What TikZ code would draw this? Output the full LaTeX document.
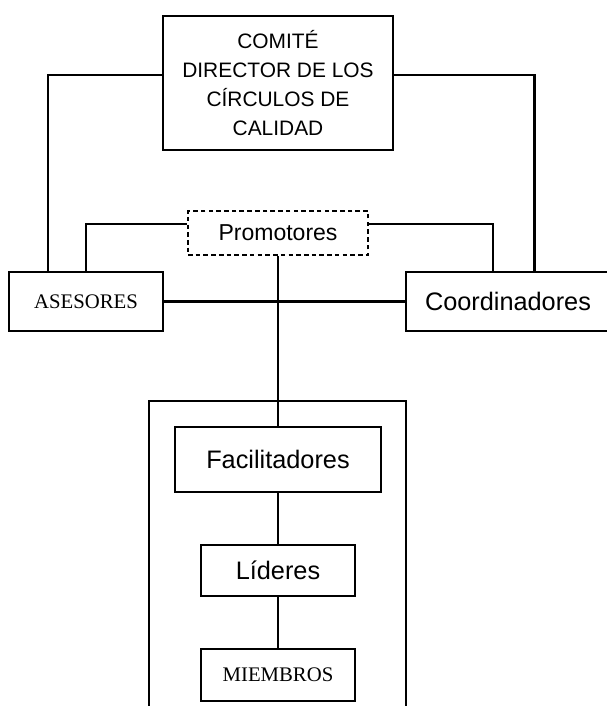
\documentclass[tikz,border=0pt]{standalone}
\usepackage{fontspec}
\setmainfont{Liberation Sans}
\newfontfamily\romana{Liberation Serif}
\usetikzlibrary{positioning}

\begin{document}
\begin{tikzpicture}[node distance=1.02cm, line width=1.2pt,
    caja/.style={draw, inner sep=0pt, align=center},
    grande/.style={font=\fontsize{14.4}{17}\selectfont},
    serif/.style={font=\romana\fontsize{11.8}{14}\selectfont}]
    \useasboundingbox (0,0) rectangle (12.12,14.12);
    \node[caja, minimum width=4.61cm, minimum height=2.69cm,
          font=\fontsize{11.9}{16.5}\selectfont] (comite) at (5.56,12.46)
          {COMITÉ\\DIRECTOR DE LOS\\CÍRCULOS DE\\CALIDAD};
    \node[caja, dash pattern=on 2.6pt off 1.8pt, minimum width=3.6cm,
          minimum height=0.88cm, font=\fontsize{13.1}{15}\selectfont]
          (prom) at (5.56,9.46) {Promotores};
    \node[caja, serif, minimum width=3.09cm, minimum height=1.18cm]
          (ases) at (1.72,8.09) {ASESORES};
    \node[caja, grande, minimum width=4.08cm, minimum height=1.18cm]
          (coord) at (10.16,8.09) {Coordinadores};
    \node[caja, minimum width=5.14cm, minimum height=6.22cm] (grupo) at (5.55,2.99) {};
    \node[caja, grande, minimum width=4.12cm, minimum height=1.3cm]
          (facil) at (5.56,4.93) {Facilitadores};
    \node[caja, grande, minimum width=3.08cm, minimum height=1.02cm,
          below=of facil] (lid) {Líderes};
    \node[caja, serif, minimum width=3.08cm, minimum height=1.04cm,
          below=of lid] (miem) {MIEMBROS};
    % lineas del comite
    \draw ([yshift=0.16cm]comite.west) -| ([xshift=-0.76cm]ases.north);
    \draw ([yshift=0.16cm]comite.east) -| ([xshift=0.53cm]coord.north);
    % lineas de promotores
    \draw ([yshift=0.18cm]prom.west) -| (ases.north);
    \draw ([yshift=0.18cm]prom.east) -| ([xshift=-0.30cm]coord.north);
    \draw (ases.east) -- (coord.west);
    \draw (prom.south) -- (facil.north);
    \draw (facil) -- (lid);
    \draw (lid) -- (miem);
\end{tikzpicture}
\end{document}
